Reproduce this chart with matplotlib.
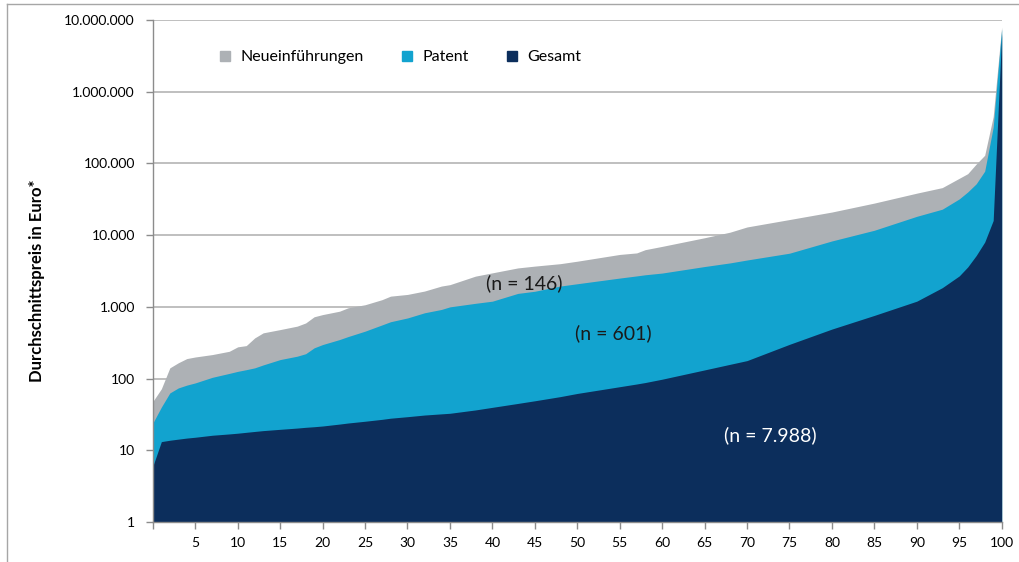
import matplotlib
matplotlib.use("Agg")
import matplotlib.pyplot as plt
from matplotlib.lines import Line2D
from matplotlib.patches import Rectangle

plt.rcParams['font.family'] = ['Lato', 'DejaVu Sans']

# percentile positions
x = [0, 1, 2, 3, 4, 5, 7, 9, 10, 11, 12, 13, 15, 17, 18, 19, 20, 22, 23, 25,
     27, 28, 30, 32, 34, 35, 38, 40, 43, 45, 48, 50, 55, 57, 58, 60, 65, 68, 70,
     75, 80, 85, 90, 93, 95, 96, 97, 98, 99, 100]

gesamt = [6, 13.2, 13.8, 14.3, 14.8, 15.2, 16.2, 16.9, 17.3, 17.8, 18.3, 18.8,
          19.6, 20.4, 20.9, 21.3, 21.8, 23.2, 24.0, 25.4, 27, 28, 29.4, 31, 32.2,
          32.8, 36.5, 39.7, 45, 49, 56, 62, 77, 84, 88, 98, 132, 158, 178, 300,
          490, 760, 1200, 1850, 2700, 3600, 5200, 8000, 16000, 6.5e6]

patent = [24, 40, 63, 74, 81, 87, 104, 118, 126, 133, 141, 155, 184, 205, 222,
          268, 298, 350, 385, 458, 560, 620, 700, 826, 920, 1000, 1120, 1200,
          1540, 1650, 1950, 2100, 2520, 2700, 2800, 2960, 3650, 4100, 4500, 5600,
          8300, 11700, 18300, 23000, 32000, 40000, 52000, 78000, 320000, 7.5e6]

neu = [48, 72, 141, 166, 190, 200, 216, 240, 277, 288, 369, 434, 482, 538, 596,
       727, 780, 870, 970, 1070, 1260, 1410, 1490, 1660, 1950, 2040, 2680, 2980,
       3490, 3700, 4000, 4330, 5380, 5650, 6270, 6970, 9200, 11000, 13000, 16500,
       21000, 28000, 38500, 46000, 62000, 72000, 98000, 130000, 450000, 8e6]

series_names = ["Neueinführungen", "Patent", "Gesamt"]
colors = ["#adb1b5", "#12a3cf", "#0c2e5c"]

yticks = [1, 10, 100, 1000, 10000, 100000, 1000000, 10000000]
yticklabels = ["1", "10", "100", "1.000", "10.000", "100.000", "1.000.000", "10.000.000"]
xticks = list(range(0, 101, 5))
xticklabels = [""] + [str(t) for t in xticks[1:]]

annotations = [("(n = 146)", 43.8, 2150, "#1a1a1a"),
               ("(n = 601)", 54.2, 434, "#1a1a1a"),
               ("(n = 7.988)", 72.8, 16.3, "white")]

fig = plt.figure(figsize=(10.19, 5.62), dpi=100)
ax = fig.add_axes([0.150, 0.0712, 0.833, 0.8932])

for vals, c in zip([neu, patent, gesamt], colors):
    ax.fill_between(x, 1, vals, color=c, linewidth=0, zorder=2)

ax.set_yscale('log')
ax.set_ylim(1, 1e7)
ax.set_xlim(0, 100)
ax.set_yticks(yticks)
ax.set_yticklabels(yticklabels)
ax.minorticks_off()
ax.set_xticks(xticks)
ax.set_xticklabels(xticklabels)
ax.yaxis.grid(True, color="#b4b4b4", linewidth=1.2, zorder=1)
ax.set_axisbelow(True)

for s in ['top', 'right']:
    ax.spines[s].set_visible(False)
for s in ['left', 'bottom']:
    ax.spines[s].set_color("#8c8c8c")
    ax.spines[s].set_linewidth(1.0)
ax.tick_params(axis='both', colors="#8c8c8c", labelcolor="#000000",
               labelsize=10, length=5, width=1.0)
ax.tick_params(axis='x', pad=6)
ax.tick_params(axis='y', pad=8)

ax.set_ylabel("Durchschnittspreis in Euro*", fontsize=12, fontweight='bold')
ax.yaxis.set_label_coords(-0.127, 0.48)

for txt, xx, yy, c in annotations:
    ax.text(xx, yy, txt, color=c, fontsize=14, ha='center', va='center', zorder=5)

handles = [Rectangle((0, 0), 1, 1, color=c) for c in colors]
leg = ax.legend(handles, series_names, loc='upper left', bbox_to_anchor=(0.062, 0.968),
                ncol=3, frameon=False, fontsize=11.5, handlelength=0.65,
                handleheight=0.65, handletextpad=0.62, columnspacing=2.4)

# outer frame lines
fig.add_artist(Line2D([7 / 1019, 1.0], [1 - 4 / 562, 1 - 4 / 562],
                      transform=fig.transFigure, color="#a6a6a6", linewidth=1.0))
fig.add_artist(Line2D([7 / 1019, 7 / 1019], [1 - 4 / 562, 0.0],
                      transform=fig.transFigure, color="#a6a6a6", linewidth=1.0))

fig.savefig("out.png", dpi=100)
